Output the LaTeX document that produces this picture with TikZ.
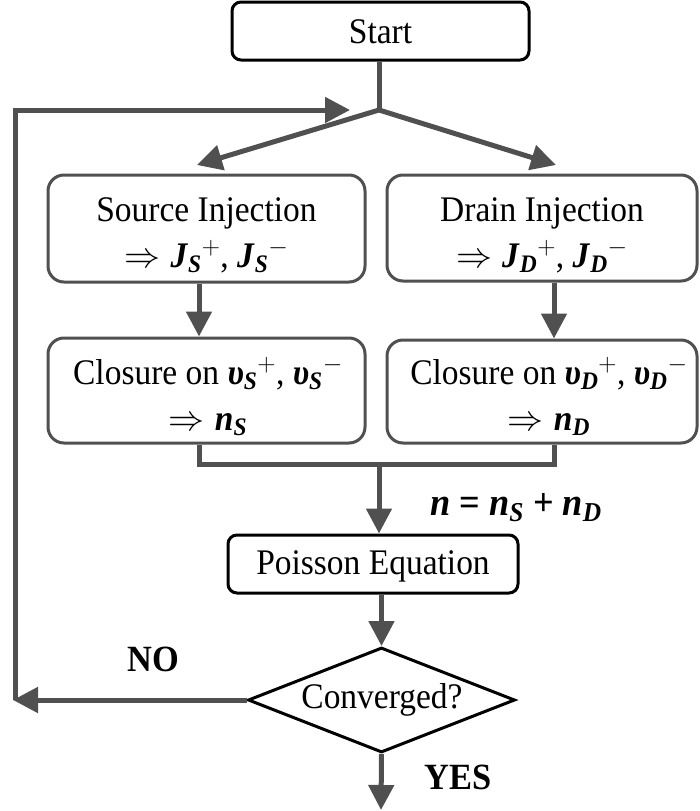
\RequirePackage{fix-cm}
\documentclass[tikz,border=0pt]{standalone}
\usepackage{amsmath}
\usepackage{fontspec}
\setmainfont{Liberation Serif}[FakeStretch=0.93]
\usetikzlibrary{shapes.geometric,arrows.meta}
\definecolor{lg}{HTML}{505050}
\newcommand\bi[1]{\textbf{\textit{#1}}}
\newcommand\ups{\bi{υ}}
\begin{document}
\begin{tikzpicture}[x=1pt,y=-1pt,
  txt/.style={font=\fontsize{36}{46}\selectfont, align=center, inner sep=0pt},
  blkbox/.style={draw=black, line width=3pt, rounded corners=9pt, inner sep=0pt},
  gbox/.style={draw=lg, line width=3pt, rounded corners=16pt, inner sep=0pt},
  conn/.style={draw=lg, line width=5pt},
  arr/.style={conn, -{Triangle[length=25pt,width=25pt]}},
  lbl/.style={font=\fontsize{37}{40}\selectfont\bfseries, inner sep=0pt}]
\useasboundingbox (0,0) rectangle (699,811);

% boxes
\node[blkbox, minimum width=297pt, minimum height=58pt] (start) at (380.5,31) {};
\node[gbox, minimum width=317pt, minimum height=107pt] (src) at (206.5,228.5) {};
\node[gbox, minimum width=310pt, minimum height=106pt] (drn) at (542,228) {};
\node[gbox, minimum width=317pt, minimum height=105pt] (cls) at (206.5,390.5) {};
\node[gbox, minimum width=310pt, minimum height=103pt] (cld) at (542,391.5) {};
\node[blkbox, minimum width=290pt, minimum height=58pt] (poi) at (373,564) {};
\node[diamond, draw=black, line width=3pt, inner sep=0pt, aspect=2.54,
      minimum width=267pt, minimum height=105pt] (dia) at (381.5,700) {};

% texts
\node[txt] (startT) at (380.5,32) {Start};
\node[txt] (srcT) at (206.5,235)
  {Source Injection\\ $\Rightarrow \bi{J}_{\bi{S}}{}^{+}$, $\bi{J}_{\bi{S}}{}^{-}$};
\node[txt] (drnT) at (542,235)
  {Drain Injection\\ $\Rightarrow \bi{J}_{\bi{D}}{}^{+}$, $\bi{J}_{\bi{D}}{}^{-}$};
\node[txt] (clsT) at (208,396)
  {Closure on\ $\ups_{\bi{S}}{}^{+}$,\ $\ups_{\bi{S}}{}^{-}$\\ $\Rightarrow \bi{n}_{\bi{S}}$};
\node[txt] (cldT) at (549,396)
  {Closure on\ $\ups_{\bi{D}}{}^{+}$,\ $\ups_{\bi{D}}{}^{-}$\\ $\Rightarrow \bi{n}_{\bi{D}}$};
\node[txt] (poiT) at (373,566) {Poisson Equation};
\node[txt] (diaT) at (382,700) {Converged?};

% labels
\node[txt, font=\fontsize{39}{44}\selectfont] (nsum) at (516,508)
  {\bi{n} \textbf{=} $\bi{n}_{\bi{S}}$ \textbf{+} $\bi{n}_{\bi{D}}$};
\node[lbl] (no) at (153,659) {NO};
\node[lbl] (yes) at (458,777) {YES};

% helper coordinates
\coordinate (J) at (379,110);
\coordinate (L) at (199,0);
\coordinate (R) at (554,0);
\coordinate (tipL) at (197,165);
\coordinate (tipR) at (556,165);
\coordinate (merge) at (379,464);
\coordinate (TL) at (15,110);
\coordinate (BL) at (13,700);
\coordinate (loopEnd) at (350,110);
\coordinate (endY) at (381,810);

% connectors
\draw[conn] (start.south -| J) -- (J);
\draw[arr] (J) -- (tipL);
\draw[arr] (J) -- (tipR);
\draw[arr] (src.south -| L) -- (cls.north -| L);
\draw[arr] (drn.south -| R) -- (cld.north -| R);
\draw[conn] (cls.south -| L) -- (L |- merge) -- (R |- merge) -- (cld.south -| R);
\draw[arr] (merge) -- (poi.north -| merge);
\draw[arr] (poi.south -| dia.north) -- (dia.north);
\draw[arr] (dia.west) -- (BL);
\draw[arr] (TL |- dia.west) -- (TL) -- (loopEnd);
\draw[arr] (dia.south) -- (endY);
\end{tikzpicture}
\end{document}
